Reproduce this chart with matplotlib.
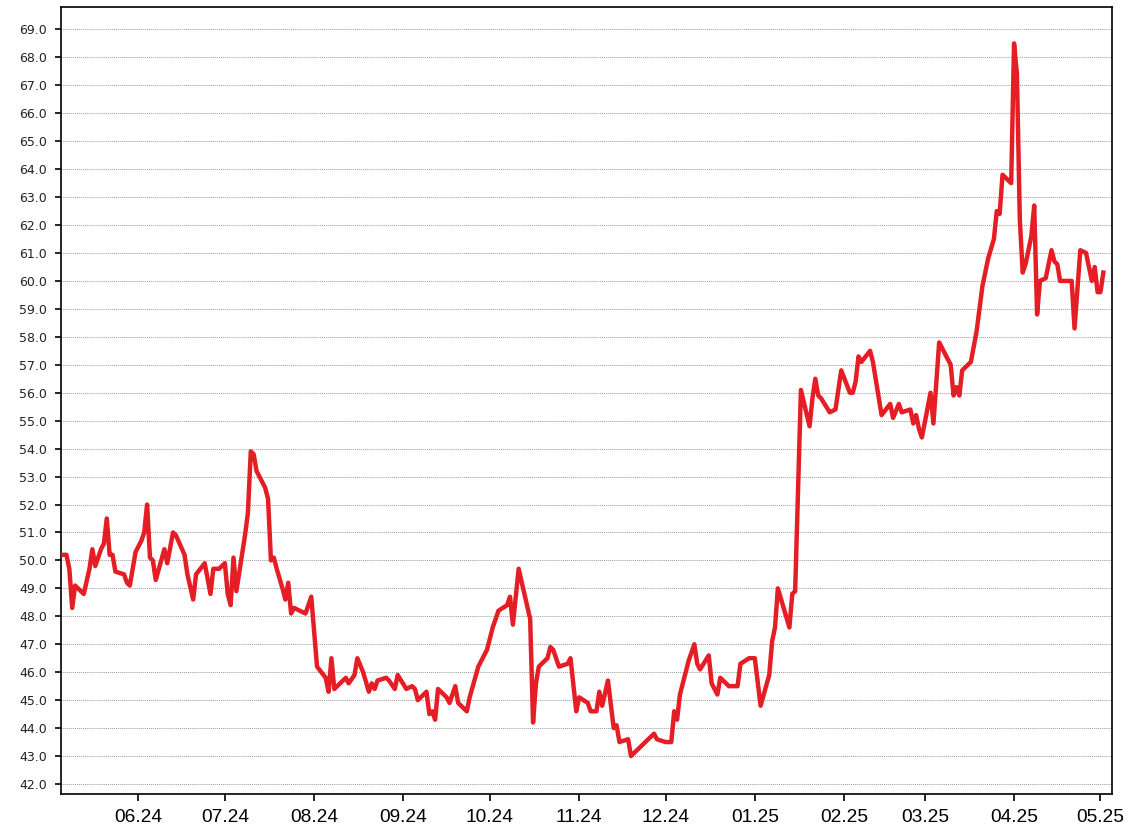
import numpy as np
import matplotlib
matplotlib.use('Agg')
import matplotlib.pyplot as plt
import matplotlib.dates as mdates

# data: days since start date, price
start = np.datetime64('2024-05-06')
days = [0, 1, 2, 3, 4, 5, 7, 9, 10, 11, 13, 14, 15, 16, 17, 18, 21, 22, 23, 25,
        27, 28, 29, 30, 31, 32, 35, 36, 38, 39, 42, 43, 45, 46, 49, 51, 52, 54, 56, 57,
        58, 59, 60, 63, 64, 65, 66, 67, 70, 71, 72, 73, 74, 76, 77, 78, 79, 80, 84, 86,
        88, 91, 92, 93, 94, 98, 99, 101, 102, 104, 106, 107, 108, 109, 112, 113, 115, 116, 119, 121,
        122, 123, 126, 127, 128, 129, 130, 133, 134, 136, 137, 140, 141, 144, 147, 149, 151, 154, 155, 156,
        158, 162, 163, 164, 165, 168, 169, 170, 172, 175, 176, 178, 179, 182, 183, 185, 186, 187, 189, 191,
        192, 193, 196, 197, 198, 200, 203, 205, 206, 209, 211, 212, 213, 214, 217, 219, 220, 221, 224, 225,
        227, 228, 231, 234, 235, 238, 240, 242, 245, 246, 247, 248, 252, 253, 254, 256, 259, 260, 261, 262,
        263, 266, 268, 270, 273, 274, 275, 276, 277, 280, 281, 284, 287, 288, 290, 291, 294, 295, 296, 297,
        298, 301, 302, 304, 308, 309, 310, 311, 312, 315, 317, 319, 321, 323, 324, 325, 326, 329, 330, 331,
        332, 333, 334, 336, 337, 338, 339, 341, 343, 344, 345, 346, 350, 351, 353, 355, 357, 358, 359, 360,
        361]
price = [50.2, 50.2, 49.7, 48.3, 49.1, 49.0, 48.8, 49.7, 50.4, 49.8, 50.4, 50.6, 51.5, 50.2, 50.2, 49.6, 49.5, 49.2, 49.1, 50.3,
         50.7, 51.0, 52.0, 50.1, 50.0, 49.3, 50.4, 49.9, 51.0, 50.9, 50.2, 49.5, 48.6, 49.5, 49.9, 48.8, 49.7, 49.7, 49.9, 48.8,
         48.4, 50.1, 48.9, 50.9, 51.7, 53.9, 53.8, 53.2, 52.6, 52.2, 50.0, 50.1, 49.7, 49.0, 48.6, 49.2, 48.1, 48.3, 48.1, 48.7,
         46.2, 45.8, 45.3, 46.5, 45.4, 45.8, 45.6, 45.9, 46.5, 46.0, 45.3, 45.6, 45.4, 45.7, 45.8, 45.7, 45.4, 45.9, 45.4, 45.5,
         45.4, 45.0, 45.3, 44.5, 44.6, 44.3, 45.4, 45.1, 44.9, 45.5, 44.9, 44.6, 45.1, 46.2, 46.8, 47.6, 48.2, 48.4, 48.7, 47.7,
         49.7, 47.9, 44.2, 45.6, 46.2, 46.5, 46.9, 46.8, 46.2, 46.3, 46.5, 44.6, 45.1, 44.9, 44.6, 44.6, 45.3, 44.8, 45.7, 44.0,
         44.1, 43.5, 43.6, 43.0, 43.1, 43.3, 43.6, 43.8, 43.6, 43.5, 43.5, 44.6, 44.3, 45.2, 46.4, 47.0, 46.3, 46.1, 46.6, 45.6,
         45.2, 45.8, 45.5, 45.5, 46.3, 46.5, 46.5, 44.8, 45.9, 47.1, 47.6, 49.0, 47.6, 48.8, 48.9, 56.1, 54.8, 55.8, 56.5, 55.9,
         55.8, 55.3, 55.4, 56.8, 56.0, 56.0, 56.4, 57.3, 57.1, 57.5, 57.1, 55.2, 55.6, 55.1, 55.6, 55.3, 55.4, 54.9, 55.2, 54.7,
         54.4, 56.0, 54.9, 57.8, 57.0, 55.9, 56.2, 55.9, 56.8, 57.1, 58.2, 59.8, 60.8, 61.5, 62.5, 62.4, 63.8, 63.5, 68.5, 67.4,
         62.2, 60.3, 60.6, 61.6, 62.7, 58.8, 60.0, 60.1, 61.1, 60.7, 60.6, 60.0, 60.0, 58.3, 61.1, 61.0, 60.0, 60.5, 59.6, 59.6,
         60.3]
yticks = np.arange(42, 70, 1)

dates = start + np.array(days).astype('timedelta64[D]')

fig = plt.figure(figsize=(11.28, 8.36), dpi=100)
ax = fig.add_axes([0.0538, 0.0502, 0.932, 0.941])

ax.plot(dates, price, color='#e41e24', lw=3.2, zorder=3)

ax.set_ylim(41.64, 69.79)
ax.set_xlim(start - np.timedelta64(1, 'D'), start + np.timedelta64(364, 'D'))
ax.set_yticks(yticks)
ax.yaxis.set_major_formatter(plt.FormatStrFormatter('%.1f'))
ax.xaxis.set_major_locator(mdates.MonthLocator())
ax.xaxis.set_major_formatter(mdates.DateFormatter('%m.%y'))

ax.grid(axis='y', color='#9a9a9a', linestyle=(0, (1, 1)), lw=0.7)
ax.set_axisbelow(True)

for s in ax.spines.values():
    s.set_linewidth(1.2)
ax.tick_params(axis='y', length=4, width=1.2, pad=6, labelsize=9, labelcolor='#222222')
ax.tick_params(axis='x', length=5, width=1.2, pad=6)
for lbl in ax.get_xticklabels():
    lbl.set_fontfamily('Liberation Sans')
    lbl.set_fontsize(13.8)

fig.savefig('out.png', dpi=100)
